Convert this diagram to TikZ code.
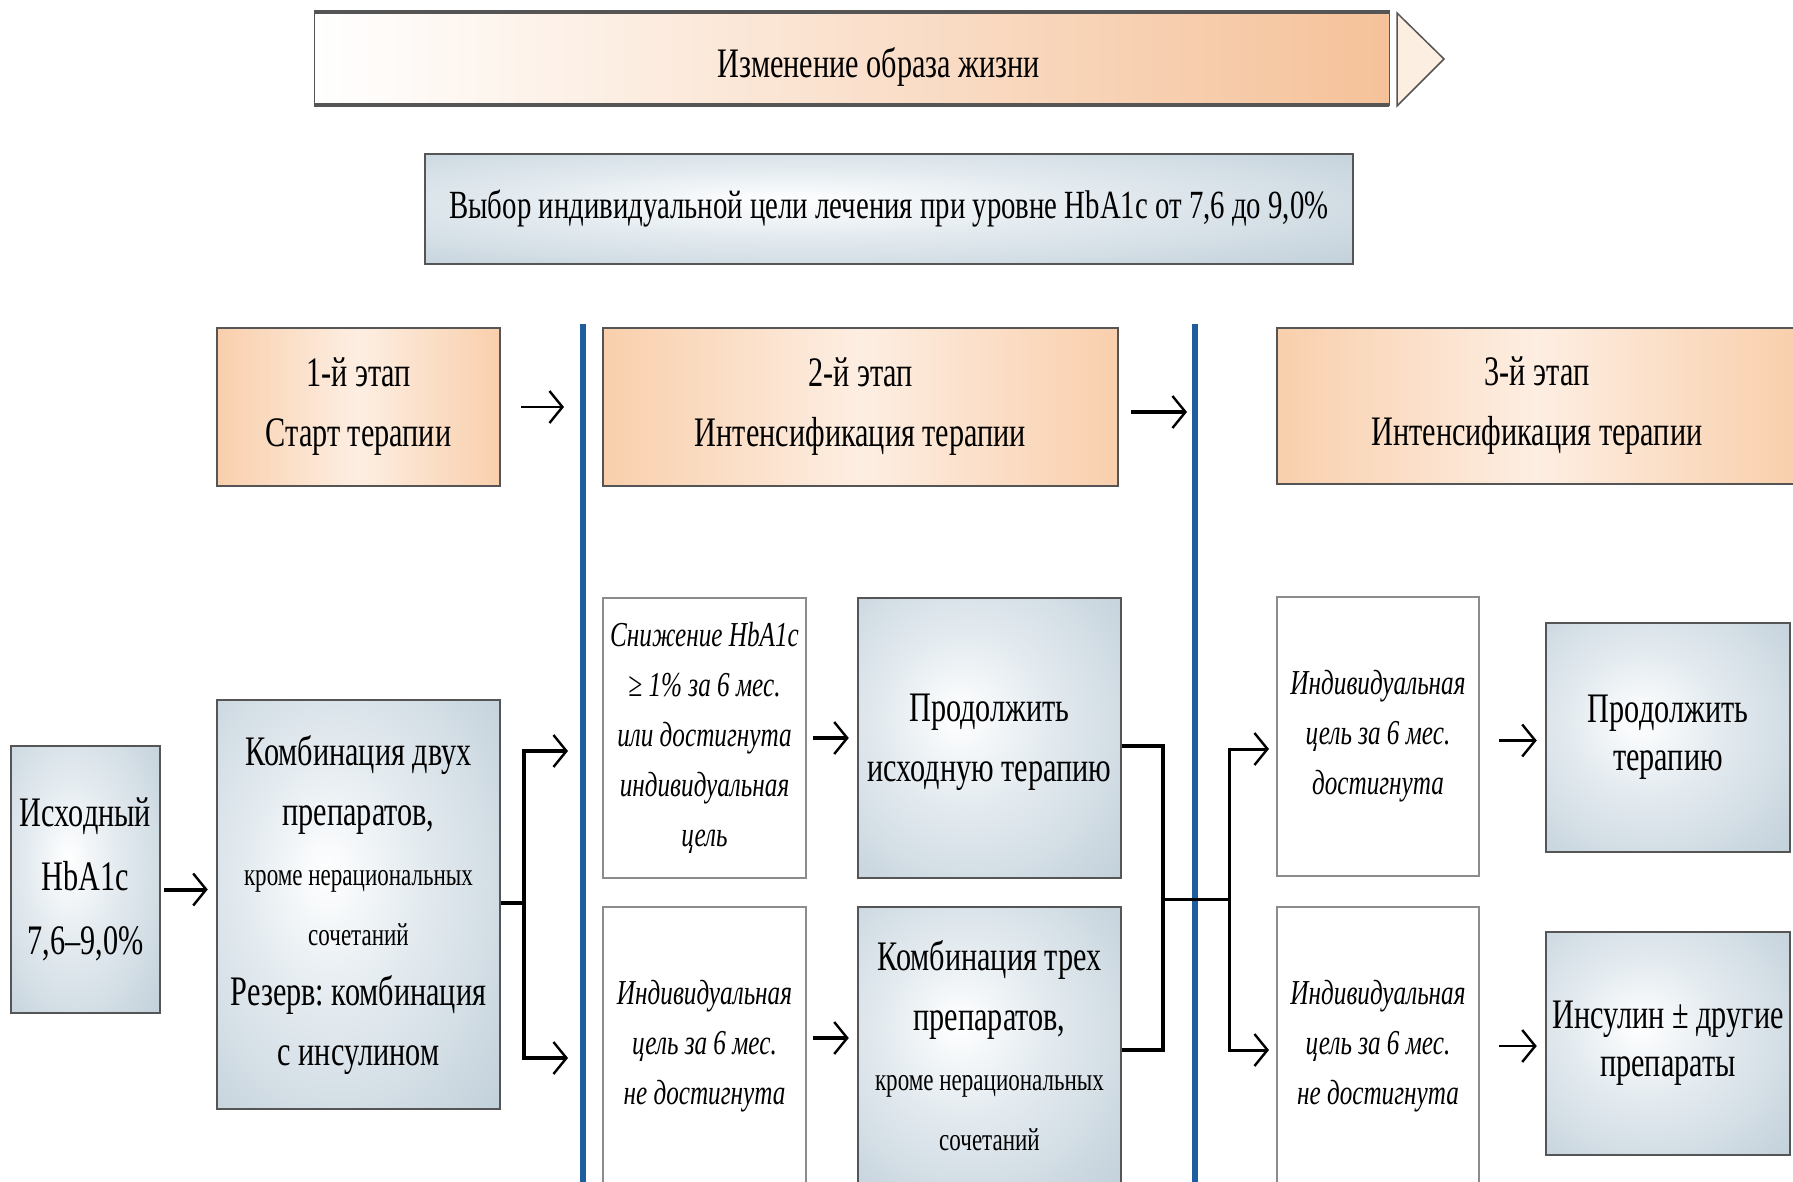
\documentclass[tikz,border=0pt]{standalone}
\usepackage{fontspec}
\setmainfont{Liberation Serif}[FakeStretch=0.72]
\usetikzlibrary{arrows.meta,calc}
\frenchspacing
\definecolor{peach}{HTML}{F9CFAC}
\definecolor{peachdk}{HTML}{F5C29A}
\definecolor{peachlt}{HTML}{FDEEE2}
\definecolor{bgray}{HTML}{C0CFD9}
\definecolor{bgraylt}{HTML}{E9EFF3}
\definecolor{edgec}{HTML}{555555}
\definecolor{wedge}{HTML}{8C8C8C}
\definecolor{blueline}{HTML}{1E5E9E}
\pgfdeclareradialshading{softgray}{\pgfpoint{-6bp}{4bp}}{color(0bp)=(white); color(12bp)=(bgraylt); color(40bp)=(bgray); color(70bp)=(bgray)}
\begin{document}
\begin{tikzpicture}[x=1pt,y=-1pt,
  bigf/.style={font=\fontsize{42}{60}\selectfont},
  itf/.style={font=\fontsize{35}{50}\selectfont\itshape},
  stg/.style={draw=edgec,line width=2.5pt,left color=peach,right color=peach,middle color=peachlt,align=center,bigf,inner sep=0pt},
  gbox/.style={draw=edgec,line width=2.5pt,shading=softgray,align=center,bigf,inner sep=0pt},
  wbox/.style={draw=wedge,line width=2pt,fill=white,align=center,itf,inner sep=0pt},
  link/.style={line width=4pt,black},
  thinlink/.style={line width=2.2pt,black},
  arr/.style={-{Straight Barb[length=13pt,width=32pt,line width=2.4pt]}},
  bluel/.style={line width=6pt,blueline}
]
\useasboundingbox (0,0) rectangle (1793,1182);
\fill[white] (0,0) rectangle (1793,1182);

% lifestyle arrow
\shade[left color=white,right color=peachdk] (314,11) rectangle (1389,106);
\draw[edgec,line width=1pt] (314,11) rectangle (1389,106);
\draw[edgec,line width=3.5pt] (314,12) -- (1389,12);
\draw[edgec,line width=3.5pt] (314,105) -- (1389,105);
\filldraw[fill=peachlt,draw=edgec,line width=1.5pt] (1397,13) -- (1444,59) -- (1397,106) -- cycle;
\node[bigf] (life) at (879,67) {Изменение образа жизни};

% goal
\node[gbox,minimum width=928,minimum height=110,font=\fontsize{40}{60}\selectfont] (goal) at (889,209)
  {Выбор индивидуальной цели лечения при уровне HbA1c от 7,6 до 9,0\%};

% blue lines
\coordinate (bl1t) at (583,324); \coordinate (bl1b) at (583,1182);
\coordinate (bl2t) at (1195,324); \coordinate (bl2b) at (1195,1182);
\draw[bluel] (bl1t) -- (bl1b);
\draw[bluel] (bl2t) -- (bl2b);

% stages
\node[stg,minimum width=283,minimum height=158] (s1) at (358.5,407) {1-й этап\\Старт терапии};
\node[stg,minimum width=515,minimum height=158] (s2) at (860.5,407) {2-й этап\\Интенсификация терапии};
\node[stg,minimum width=520,minimum height=156] (s3) at (1537,406) {3-й этап\\Интенсификация терапии};
\draw[thinlink,arr,shorten <=20pt,shorten >=19pt] (s1.east) -- (s1.east -| bl1t);
\draw[link,line width=3.5pt,arr,shorten <=12pt,shorten >=8pt] ($(s2.east)+(0,5)$) -- ($(s2.east -| bl2t)+(0,5)$);

% bottom boxes
\node[gbox,minimum width=149,minimum height=267,font=\fontsize{42}{64}\selectfont] (hb) at (85.5,879.5)
  {Исходный\\HbA1c\\7,6–9,0\%};
\node[gbox,minimum width=283,minimum height=409] (comb2) at (358.5,904.5)
  {Комбинация двух\\препаратов,\\{\fontsize{32}{58}\selectfont кроме нерациональных}\\{\fontsize{32}{58}\selectfont сочетаний}\\Резерв: комбинация\\с инсулином};
\node[wbox,minimum width=203,minimum height=280] (c1) at (704.5,738)
  {Снижение HbA1c\\≥ 1\% за 6 мес.\\или достигнута\\индивидуальная\\цель};
\node[wbox,minimum width=203,minimum height=278] (c2) at (704.5,1046)
  {Индивидуальная\\цель за 6 мес.\\не достигнута};
\node[gbox,minimum width=263,minimum height=280,text depth=0pt] (p1) at (989.5,738)
  {Продолжить\\исходную терапию};
\node[gbox,minimum width=263,minimum height=278] (comb3) at (989.5,1046)
  {Комбинация трех\\препаратов,\\{\fontsize{32}{58}\selectfont кроме нерациональных}\\{\fontsize{32}{58}\selectfont сочетаний}};
\node[wbox,minimum width=202,minimum height=279] (d1) at (1378,736.5)
  {Индивидуальная\\цель за 6 мес.\\достигнута};
\node[wbox,minimum width=202,minimum height=278] (d2) at (1378,1046)
  {Индивидуальная\\цель за 6 мес.\\не достигнута};
\node[gbox,minimum width=244,minimum height=229,font=\fontsize{42}{48}\selectfont] (p2) at (1668,737.5)
  {Продолжить\\терапию};
\node[gbox,minimum width=244,minimum height=223,font=\fontsize{42}{48}\selectfont] (ins) at (1668,1043.5)
  {Инсулин ± другие\\препараты};

% connectors
\draw[link,arr,shorten <=3pt,shorten >=8pt] ($(hb.east)+(0,10)$) -- ($(hb.east -| comb2.west)+(0,10)$);
\coordinate (j1) at (524,903);
\coordinate (a1) at (568,751);
\coordinate (a2) at (568,1058);
\draw[link] (comb2.east |- j1) -- (j1);
\draw[link,arr] (j1) |- (a1);
\draw[link,arr] (j1) |- (a2);
\draw[link,arr,shorten <=6pt,shorten >=8pt] (c1.east) -- (c1.east -| p1.west);
\draw[link,arr,shorten <=6pt,shorten >=8pt] ($(c2.east)+(0,-8)$) -- ($(c2.east -| comb3.west)+(0,-8)$);
\coordinate (j2) at (1163,899);
\coordinate (j3) at (1229,899);
\coordinate (a3) at (1269,749);
\coordinate (a4) at (1269,1050);
\draw[link] ($(p1.east)+(0,8)$) -| (j2);
\draw[link] ($(comb3.east)+(0,4)$) -| (j2);
\draw[thinlink,line width=3pt] (j2) -- (j3);
\draw[thinlink,line width=3pt,arr] (j3) |- (a3);
\draw[thinlink,line width=3pt,arr] (j3) |- (a4);
\draw[thinlink,arr,shorten <=19pt,shorten >=8pt] ($(d1.east)+(0,4)$) -- ($(d1.east -| p2.west)+(0,4)$);
\draw[thinlink,arr,shorten <=19pt,shorten >=8pt] (d2.east) -- (d2.east -| ins.west);
\end{tikzpicture}
\end{document}
